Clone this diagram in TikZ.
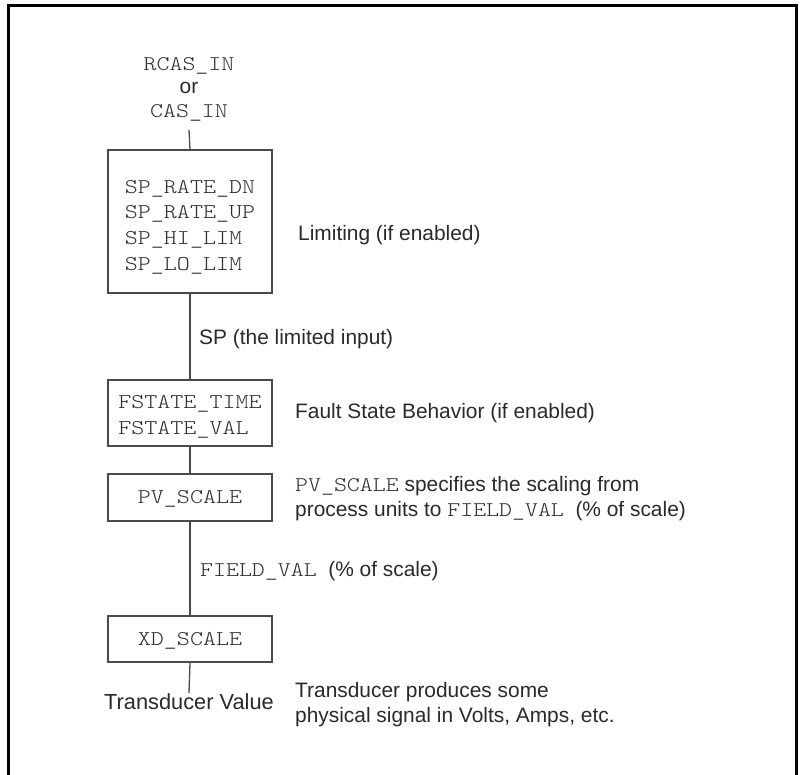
\documentclass[tikz,border=0pt]{standalone}
\usepackage{fontspec}
\setmainfont{Liberation Sans}
\newfontfamily\courfont[FakeStretch=1.18]{Latin Modern Mono Light}
\definecolor{ink}{HTML}{2A2A2A}
\definecolor{mono}{HTML}{2E2E2E}
\definecolor{wire}{HTML}{4A4A4A}
\newcommand{\mt}[1]{{\courfont\color{mono}#1}}
\tikzset{
  stepbox/.style={draw=wire, line width=1.3pt, minimum width=164pt, inner sep=0pt},
  boxtext/.style={inner sep=0pt, font=\fontsize{21}{25.7}\selectfont\courfont, text=mono, align=left},
  lbl/.style={font=\fontsize{20.9}{25}\selectfont, text=ink, inner sep=0pt, align=left},
  wirel/.style={draw=wire, line width=1.3pt},
}
\begin{document}
\begin{tikzpicture}[x=1pt,y=-1pt]
\useasboundingbox (0,0) rectangle (800,775);
\fill[white] (0,0) rectangle (800,775);
\draw[line width=3pt] (8.5,775) -- (8.5,5.5) -- (796.5,5.5) -- (796.5,775);

\node[lbl, align=center, inner sep=0pt, font=\fontsize{20.9}{23.5}\selectfont] (in) at (189,89)
  {\mt{RCAS\_IN}\\or\\\mt{CAS\_IN}};
\coordinate (inb) at (189,130);

\node[stepbox, minimum height=143pt] (b1) at (190,221.5) {};
\node[boxtext] (b1t) at (190,227) {SP\_RATE\_DN\\SP\_RATE\_UP\\SP\_HI\_LIM\\SP\_LO\_LIM};
\node[stepbox, minimum height=66pt] (b2) at (190,413) {};
\node[boxtext, font=\fontsize{21}{26}\selectfont\courfont] (b2t) at (190,416.5) {FSTATE\_TIME\\FSTATE\_VAL};
\node[stepbox, minimum height=47pt] (b3) at (190,497.5) {};
\node[boxtext] (b3t) at (190,498.5) {PV\_SCALE};
\node[stepbox, minimum height=46pt] (b4) at (190,639) {};
\node[boxtext] (b4t) at (190,641) {XD\_SCALE};
\node[lbl, anchor=north, inner sep=0pt, font=\fontsize{21.8}{25}\selectfont] (tv) at (189,693) {Transducer Value};

\node[lbl, anchor=west] (lim) at (298,235) {Limiting (if enabled)};
\node[lbl, anchor=west] (sp) at (199,339) {SP (the limited input)};
\node[lbl, anchor=west] (fs) at (295,413) {Fault State Behavior (if enabled)};
\node[lbl, anchor=west] (pv) at (295,498.5)
  {\mt{PV\_SCALE} specifies the scaling from\\process units to \mt{FIELD\_VAL}\ \ (\% of scale)};
\node[lbl, anchor=west] (fv) at (200,571) {\mt{FIELD\_VAL}\ \ (\% of scale)};
\node[lbl, anchor=west] (td) at (295,704.5)
  {Transducer produces some\\physical signal in Volts, Amps, etc.};

\draw[wirel] (inb) -- (b1.north);
\draw[wirel] (b1.south) -- (b2.north);
\draw[wirel] (b2.south) -- (b3.north);
\draw[wirel] (b3.south) -- (b4.north);
\draw[wirel] (b4.south) -- (tv.north);
\end{tikzpicture}
\end{document}
